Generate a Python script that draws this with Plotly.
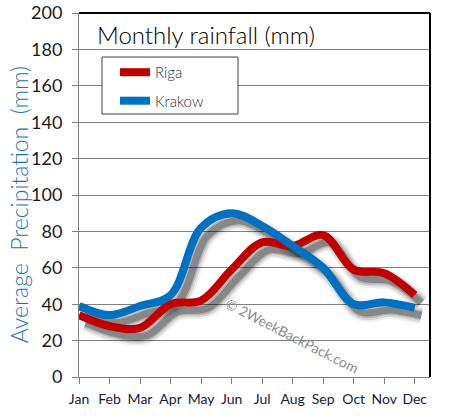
import plotly.graph_objects as go

months = ["Jan", "Feb", "Mar", "Apr", "May", "Jun", "Jul", "Aug", "Sep", "Oct", "Nov", "Dec"]
riga = [34, 28, 27, 40, 42, 59, 74, 72, 78, 59, 57, 45]
krakow = [39, 34, 39, 45, 82, 90, 83, 72, 60, 40, 41, 38]
y_ticks = list(range(0, 201, 20))

RED = "#c00000"
BLUE = "#0070c0"
FONT = "Lato, DejaVu Sans, sans-serif"

x_idx = list(range(len(months)))
# shadow offset (in data units)
dx, dy = 0.22, -4.2

fig = go.Figure()

for series in (riga, krakow):
    sx = [v + dx for v in x_idx]
    sy = [v + dy for v in series]
    for w, op in ((18, 0.06), (14, 0.10), (10, 0.16), (7, 0.25)):
        fig.add_trace(go.Scatter(
            x=sx, y=sy, mode="lines", showlegend=False, hoverinfo="skip",
            line=dict(color=f"rgba(0,0,0,{op})", width=w, shape="spline", smoothing=1.0),
        ))

fig.add_trace(go.Scatter(x=x_idx, y=riga, mode="lines", name="Riga", legendgroup="riga",
                         line=dict(color=RED, width=8, shape="spline", smoothing=1.0)))
fig.add_trace(go.Scatter(x=x_idx, y=krakow, mode="lines", name="Krakow", legendgroup="krakow",
                         line=dict(color=BLUE, width=8, shape="spline", smoothing=1.0)))

fig.update_layout(
    width=450, height=419,
    margin=dict(l=79, r=20, t=13, b=42, autoexpand=False),
    paper_bgcolor="white", plot_bgcolor="white",
    font=dict(family=FONT, color="#222"),
    showlegend=True,
    legend=dict(
        x=0.1026, y=0.882, xanchor="left", yanchor="top",
        bgcolor="rgba(0,0,0,0)", borderwidth=0,
        font=dict(size=15, color="#333", weight=300),
        itemwidth=30, tracegroupgap=6, traceorder="grouped",
    ),
    xaxis=dict(
        range=[0, 11.5], tickmode="array", tickvals=x_idx, ticktext=months,
        showgrid=False, zeroline=False, automargin=False,
        showline=True, linecolor="#808080", linewidth=1,
        ticks="outside", ticklen=6, tickcolor="#808080",
        tickfont=dict(size=14, color="#1a1a3a"), ticklabelstandoff=3,
        fixedrange=True,
    ),
    yaxis=dict(
        range=[0, 200], tickmode="array", tickvals=y_ticks,
        showgrid=True, gridcolor="#808080", gridwidth=1, zeroline=False, automargin=False,
        showline=True, linecolor="#808080", linewidth=1,
        ticks="outside", ticklen=6, tickcolor="#808080",
        tickfont=dict(size=18, color="#1a1a1a"), ticklabelstandoff=6,
        fixedrange=True,
    ),
    shapes=[
        dict(type="line", xref="paper", yref="paper", x0=0, x1=1, y0=1, y1=1,
             line=dict(color="black", width=2)),
        dict(type="line", xref="paper", yref="paper", x0=1, x1=1, y0=0, y1=1,
             line=dict(color="black", width=2)),
        dict(type="rect", xref="paper", yref="paper", x0=0.0655, x1=0.453, y0=0.7225, y1=0.879,
             fillcolor="white", line=dict(color="#404040", width=1), layer="above"),
    ],
    annotations=[
        dict(text="Monthly rainfall (mm)", xref="paper", yref="paper",
             x=0.046, y=0.985, xanchor="left", yanchor="top", showarrow=False,
             font=dict(size=24, color="black", weight=300)),
        dict(text="Average  Precipitation  (mm)", xref="paper", yref="paper",
             x=-0.17, y=0.4725, xanchor="center", yanchor="middle", showarrow=False,
             textangle=-90, font=dict(size=23, color="#1f6fb8", weight=300)),
        dict(text="© 2WeekBackPack.com", xref="paper", yref="paper",
             x=0.607, y=0.115, xanchor="center", yanchor="middle", showarrow=False,
             textangle=27, font=dict(size=14, color="#8a8a8a")),
    ],
)

fig.write_html("out.html", config={"displayModeBar": False},
               post_script="document.body.style.margin='0';")
